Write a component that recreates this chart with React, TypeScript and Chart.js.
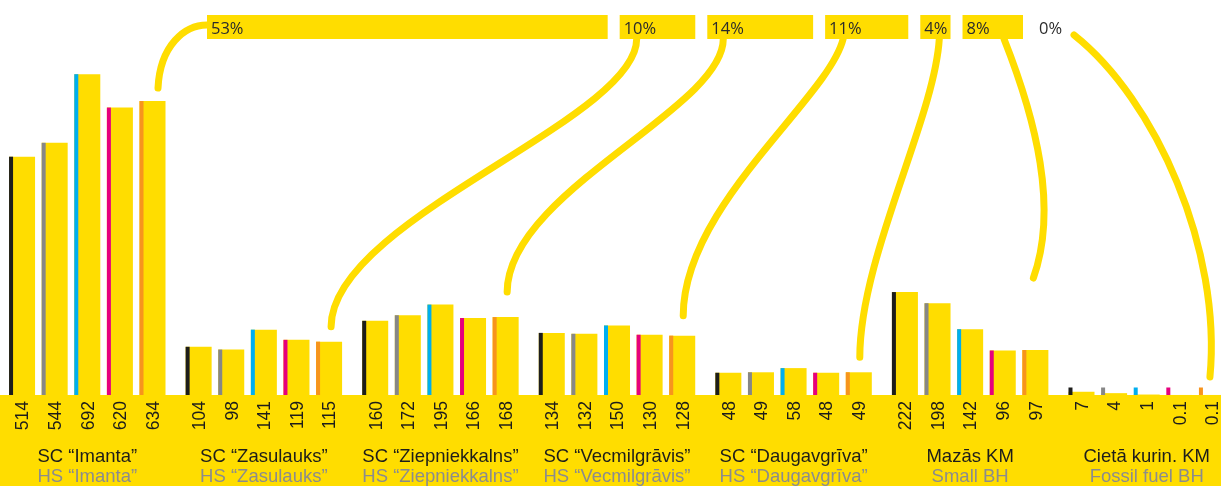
import { useEffect, useRef } from "react";
import { Chart, registerables } from "chart.js";

Chart.register(...registerables);

// ---- data ----
const categories = [
  "SC “Imanta”",
  "SC “Zasulauks”",
  "SC “Ziepniekkalns”",
  "SC “Vecmilgrāvis”",
  "SC “Daugavgrīva”",
  "Mazās KM",
  "Cietā kurin. KM",
];
const subCategories = [
  "HS “Imanta”",
  "HS “Zasulauks”",
  "HS “Ziepniekkalns”",
  "HS “Vecmilgrāvis”",
  "HS “Daugavgrīva”",
  "Small BH",
  "Fossil fuel BH",
];
const series1 = [514, 104, 160, 134, 48, 222, 7];
const series2 = [544, 98, 172, 132, 49, 198, 4];
const series3 = [692, 141, 195, 150, 58, 142, 1];
const series4 = [620, 119, 166, 130, 48, 96, 0.1];
const series5 = [634, 115, 168, 128, 49, 97, 0.1];
const shareValues = [53, 10, 14, 11, 4, 8, 0];
const shareLabels = ["53%", "10%", "14%", "11%", "4%", "8%", "0%"];

// ---- styles ----
const YELLOW = "#FFDD00";
const STRIPES = ["#1d1d1b", "#878787", "#00aeef", "#e6007e", "#f7941d"];
const SANS = '"Liberation Sans", Arial, sans-serif';

// connector geometry (relative offsets)
const CONNECTORS = [
  { sx: 0, sy: 10, c1: [-22, 0], c2: [2, -43], ex: 5.5, gap: 13 },
  { sx: 17, sy: 24, c1: [0, 81], c2: [0, -107], ex: 2, gap: 15 },
  { sx: 16, sy: 24, c1: [0, 70], c2: [0, -100], ex: 1.5, gap: 25 },
  { sx: 18, sy: 24, c1: [-15, 60], c2: [0, -110], ex: 1, gap: 20 },
  { sx: 19, sy: 24, c1: [-5, 80], c2: [0, -100], ex: 1, gap: 15 },
  { sx: 41.5, sy: 24, c1: [32, 81], c2: [25, -70], ex: -2, gap: 72 },
  { sx: 39, sy: 20, c1: [82, 65], c2: [12, -127], ex: -2, gap: 18 },
];

const decor = {
  id: "decor",
  beforeDraw(chart: any) {
    const { ctx, chartArea, width, height } = chart;
    ctx.save();
    ctx.fillStyle = YELLOW;
    ctx.fillRect(0, chartArea.bottom, width, height - chartArea.bottom);
    ctx.restore();
  },
  afterDatasetsDraw(chart: any) {
    const ctx = chart.ctx;
    const base = chart.chartArea.bottom;
    const xScale = chart.scales.x;
    ctx.save();
    // stripes + value labels
    chart.data.datasets.forEach((ds: any, di: number) => {
      const meta = chart.getDatasetMeta(di);
      meta.data.forEach((bar: any, i: number) => {
        const p = bar.getProps(["x", "y", "width"], true);
        const left = p.x - p.width / 2;
        const top = Math.min(p.y, base - 7.5);
        ctx.fillStyle = STRIPES[di];
        ctx.fillRect(left, top, 4, base - top);

        ctx.save();
        ctx.translate(p.x, base + 6);
        ctx.rotate(-Math.PI / 2);
        ctx.font = "17.5px " + SANS;
        ctx.fillStyle = "#1d1d1b";
        ctx.textAlign = "right";
        ctx.textBaseline = "alphabetic";
        ctx.fillText(String(ds.data[i]), 0, 6.3);
        ctx.restore();
      });
    });

    // category labels
    ctx.textAlign = "center";
    ctx.textBaseline = "alphabetic";
    ctx.font = "18.5px " + SANS;
    categories.forEach((c, i) => {
      const cx = xScale.getPixelForValue(i);
      ctx.fillStyle = "#1d1d1b";
      ctx.fillText(c, cx, 462);
      ctx.fillStyle = "#8c8c8c";
      ctx.fillText(subCategories[i], cx, 482);
    });

    // share boxes layout
    const k = 7.56;
    const gapBox = 12;
    const boxTop = 15;
    const boxH = 24;
    let cur = 208;
    const boxes = shareValues.map((v) => {
      const b = { x: cur, w: v * k };
      cur += v * k + gapBox;
      return b;
    });

    // connectors
    const lastMeta = chart.getDatasetMeta(chart.data.datasets.length - 1);
    ctx.strokeStyle = YELLOW;
    ctx.lineWidth = 7;
    ctx.lineCap = "round";
    CONNECTORS.forEach((c, i) => {
      const bar = lastMeta.data[i].getProps(["x", "y"], true);
      const x0 = boxes[i].x + c.sx;
      const y0 = boxTop + c.sy;
      const x3 = bar.x + c.ex;
      const y3 = bar.y - c.gap;
      ctx.beginPath();
      ctx.moveTo(x0, y0);
      ctx.bezierCurveTo(
        x0 + c.c1[0],
        y0 + c.c1[1],
        x3 + c.c2[0],
        y3 + c.c2[1],
        x3,
        y3
      );
      ctx.stroke();
    });

    // boxes + labels
    boxes.forEach((b, i) => {
      if (b.w > 0) {
        ctx.fillStyle = YELLOW;
        ctx.fillRect(b.x, boxTop, b.w, boxH);
      }
      ctx.fillStyle = "#2b2b2b";
      ctx.font = '16.5px "Open Sans", sans-serif';
      ctx.textAlign = "left";
      ctx.textBaseline = "alphabetic";
      ctx.fillText(shareLabels[i], b.x + 4, 33.5);
    });
    ctx.restore();
  },
};

export default function App() {
  const ref = useRef<HTMLCanvasElement>(null);
  useEffect(() => {
    document.body.style.overflow = "hidden";
    const chart = new Chart(ref.current as HTMLCanvasElement, {
      type: "bar",
      data: {
        labels: categories,
        datasets: [series1, series2, series3, series4, series5].map((d, i) => ({
          label: "Series " + (i + 1),
          data: d,
          backgroundColor: YELLOW,
          borderWidth: 0,
          categoryPercentage: 0.9235,
          barPercentage: 0.7975,
        })),
      },
      options: {
        responsive: false,
        animation: false,
        devicePixelRatio: 1,
        layout: { padding: { top: 0, bottom: 91, left: 0, right: 0 } },
        plugins: { legend: { display: false }, tooltip: { enabled: false } },
        scales: {
          x: { display: false },
          y: { display: false, min: 0, max: 852 },
        },
      },
      plugins: [decor],
    });
    return () => chart.destroy();
  }, []);
  return (
    <div
      style={{
        position: "fixed",
        left: -1,
        top: 0,
        width: 1236,
        height: 486,
        background: "#fff",
      }}
    >
      <canvas ref={ref} width={1236} height={486} style={{ display: "block" }} />
    </div>
  );
}
